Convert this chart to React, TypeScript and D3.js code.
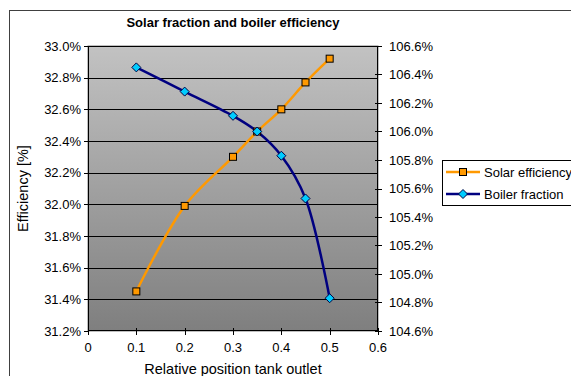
import React from "react";
import * as d3 from "d3";

const xValues = [0.1, 0.2, 0.3, 0.35, 0.4, 0.45, 0.5];
const solarEfficiency = [31.45, 31.99, 32.3, 32.46, 32.6, 32.77, 32.92];
const boilerFraction = [106.45, 106.28, 106.11, 106.0, 105.83, 105.53, 104.83];
const xTicks = [0, 0.1, 0.2, 0.3, 0.4, 0.5, 0.6];
const leftTicks = [31.2, 31.4, 31.6, 31.8, 32.0, 32.2, 32.4, 32.6, 32.8, 33.0];
const rightTicks = [104.6, 104.8, 105.0, 105.2, 105.4, 105.6, 105.8, 106.0, 106.2, 106.4, 106.6];
const seriesNames = ["Solar efficiency", "Boiler fraction"];

const W = 571;
const H = 376;
const plot = { left: 88, right: 378, top: 46, bottom: 331 };
const FONT = "Arial, 'Liberation Sans', sans-serif";

export default function App() {
  const x = d3.scaleLinear().domain([0, 0.6]).range([plot.left, plot.right]);
  const yL = d3.scaleLinear().domain([31.2, 33.0]).range([plot.bottom, plot.top]);
  const yR = d3.scaleLinear().domain([104.6, 106.6]).range([plot.bottom, plot.top]);

  const solarPts: [number, number][] = xValues.map((v, i) => [x(v), yL(solarEfficiency[i])]);
  const boilerPts: [number, number][] = xValues.map((v, i) => [x(v), yR(boilerFraction[i])]);
  const line = d3.line().curve(d3.curveCatmullRom.alpha(0.5));

  const square = (cx: number, cy: number, k: string) => (
    <rect key={k} x={cx - 3.5} y={cy - 3.5} width={7} height={7} fill="#FF9900" stroke="#000" strokeWidth={1} />
  );
  const diamond = (cx: number, cy: number, k: string) => (
    <path key={k} d={`M${cx},${cy - 4.5}L${cx + 4.5},${cy}L${cx},${cy + 4.5}L${cx - 4.5},${cy}Z`} fill="#00CCFF" stroke="#000040" strokeWidth={1} />
  );

  return (
    <svg width={W} height={H} style={{ position: "absolute", left: 0, top: 0, background: "#fff" }} fontFamily={FONT}>
      <defs>
        <linearGradient id="bg" x1="0" y1="0" x2="0" y2="1">
          <stop offset="0" stopColor="#c2c2c2" />
          <stop offset="1" stopColor="#7f7f7f" />
        </linearGradient>
      </defs>
      <rect x={9.5} y={10.5} width={W} height={H} fill="#fff" stroke="#404040" strokeWidth={1} />
      <text x={(plot.left + plot.right) / 2} y={27} textAnchor="middle" fontSize={13} fontWeight="bold">
        Solar fraction and boiler efficiency
      </text>
      <rect x={plot.left} y={plot.top} width={plot.right - plot.left} height={plot.bottom - plot.top} fill="url(#bg)" stroke="#808080" strokeWidth={1} />
      {leftTicks.map((t) => (
        <g key={"l" + t}>
          {t !== 31.2 && (
            <line x1={plot.left} x2={plot.right} y1={Math.round(yL(t)) + 0.5} y2={Math.round(yL(t)) + 0.5} stroke="#000" strokeWidth={1} />
          )}
          <line x1={plot.left - 4} x2={plot.left} y1={Math.round(yL(t)) + 0.5} y2={Math.round(yL(t)) + 0.5} stroke="#000" />
          <text x={plot.left - 7} y={yL(t) + 4.5} textAnchor="end" fontSize={13}>
            {t.toFixed(1)}%
          </text>
        </g>
      ))}
      {rightTicks.map((t) => (
        <g key={"r" + t}>
          <line x1={plot.right - 3} x2={plot.right + 4} y1={Math.round(yR(t)) + 0.5} y2={Math.round(yR(t)) + 0.5} stroke="#000" />
          <text x={plot.right + 11} y={yR(t) + 4.5} textAnchor="start" fontSize={13}>
            {t.toFixed(1)}%
          </text>
        </g>
      ))}
      {xTicks.map((t) => (
        <g key={"x" + t}>
          <line x1={Math.round(x(t)) + 0.5} x2={Math.round(x(t)) + 0.5} y1={plot.bottom - 3} y2={plot.bottom + 4} stroke="#000" />
          <text x={x(t)} y={352} textAnchor="middle" fontSize={13}>
            {String(t)}
          </text>
        </g>
      ))}
      <line x1={plot.left + 0.5} x2={plot.left + 0.5} y1={plot.top} y2={plot.bottom} stroke="#000" />
      <line x1={plot.right - 0.5} x2={plot.right - 0.5} y1={plot.top} y2={plot.bottom + 0.5} stroke="#000" />
      <line x1={plot.left} x2={plot.right} y1={plot.bottom - 0.5} y2={plot.bottom - 0.5} stroke="#000" />
      <path d={line(solarPts) || ""} fill="none" stroke="#FF9900" strokeWidth={2.5} />
      <path d={line(boilerPts) || ""} fill="none" stroke="#000080" strokeWidth={2.5} />
      {solarPts.map(([cx, cy], i) => square(cx, cy, "s" + i))}
      {boilerPts.map(([cx, cy], i) => diamond(cx, cy, "b" + i))}
      <text x={(plot.left + plot.right) / 2} y={374} textAnchor="middle" fontSize={14.5}>
        Relative position tank outlet
      </text>
      <text transform={`translate(28, ${(plot.top + plot.bottom) / 2}) rotate(-90)`} textAnchor="middle" fontSize={14.5}>
        Efficiency [%]
      </text>
      <rect x={442.5} y={160.5} width={140} height={45} fill="#fff" stroke="#000" strokeWidth={1} />
      <line x1={446} x2={480} y1={172} y2={172} stroke="#FF9900" strokeWidth={2.5} />
      {square(463, 172, "ls")}
      <text x={484} y={176.5} fontSize={13}>{seriesNames[0]}</text>
      <line x1={446} x2={480} y1={194} y2={194} stroke="#000080" strokeWidth={2.5} />
      {diamond(463, 194, "lb")}
      <text x={484} y={198.5} fontSize={13}>{seriesNames[1]}</text>
    </svg>
  );
}
